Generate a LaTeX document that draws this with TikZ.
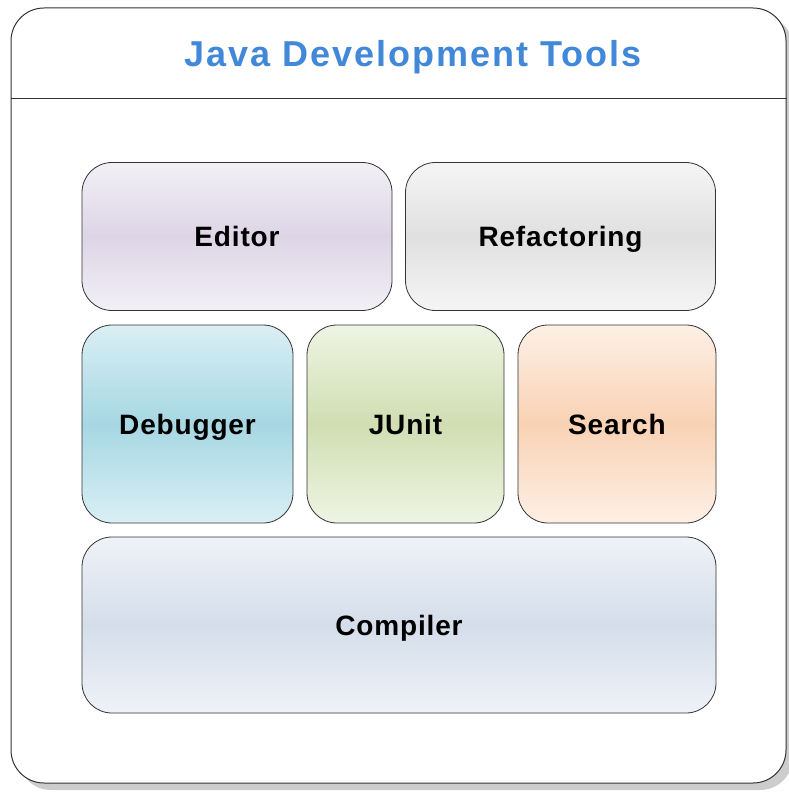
\documentclass[tikz,border=0pt]{standalone}
\usepackage{fontspec}
\setmainfont{Liberation Sans}
\usepackage{tikz}
\usetikzlibrary{shadings}

\definecolor{titleblue}{HTML}{4288D8}
\definecolor{framegray}{HTML}{333333}
\definecolor{editorlight}{HTML}{F2F0F6}
\definecolor{editordark}{HTML}{DDD5E6}
\definecolor{refactorlight}{HTML}{F5F5F5}
\definecolor{refactordark}{HTML}{E0E0E0}
\definecolor{debuglight}{HTML}{DAEFF4}
\definecolor{debugdark}{HTML}{A6D7E3}
\definecolor{junitlight}{HTML}{EFF4E4}
\definecolor{junitdark}{HTML}{D0DEB2}
\definecolor{searchlight}{HTML}{FDF0E6}
\definecolor{searchdark}{HTML}{F9D2B4}
\definecolor{compilerlight}{HTML}{EFF2F8}
\definecolor{compilerdark}{HTML}{D4DEEA}

\begin{document}
\begin{tikzpicture}
			[x=1pt, y=-1pt, align=center,
			frame/.style ={rectangle, draw=framegray, line width=1pt, fill=white, rounded corners=33pt, minimum width=775pt, minimum height=775pt},
			block/.style ={rectangle, draw=framegray, line width=0.8pt, rounded corners=30pt, text height=20pt, text depth=0pt, font=\fontsize{28}{32}\selectfont\bfseries\addfontfeature{LetterSpace=3}},
			tint/.style ={top color=#1light, bottom color=#1light, middle color=#1dark}];
			\useasboundingbox (0,0) rectangle (788,794);
			\fill [black!20, rounded corners=33pt] (18,15) rectangle (793,790);
			\node [frame] (frame) at (398.5,395.5) {};
			\draw [framegray, line width=1pt] (frame.west |- 0,99) -- (frame.east |- 0,99);
			\node [anchor=base, text=titleblue, font=\fontsize{36}{40}\selectfont\bfseries\addfontfeature{LetterSpace=5.5}] (title) at (413,67) {Java Development Tools};
			\node [block, tint=editor, minimum width=310pt, minimum height=148pt] (editor) at (237,236.5) {Editor};
			\node [block, tint=refactor, minimum width=310pt, minimum height=148pt] (refactoring) at (560.5,236.5) {Refactoring};
			\node [block, tint=debug, minimum width=211pt, minimum height=198pt] (debugger) at (187.5,424) {Debugger};
			\node [block, tint=junit, minimum width=197pt, minimum height=198pt] (junit) at (405.5,424) {JUnit};
			\node [block, tint=search, minimum width=198pt, minimum height=198pt] (search) at (617,424) {Search};
			\node [block, tint=compiler, minimum width=634pt, minimum height=176pt] (compiler) at (399,625) {Compiler};
		\end{tikzpicture}
\end{document}
